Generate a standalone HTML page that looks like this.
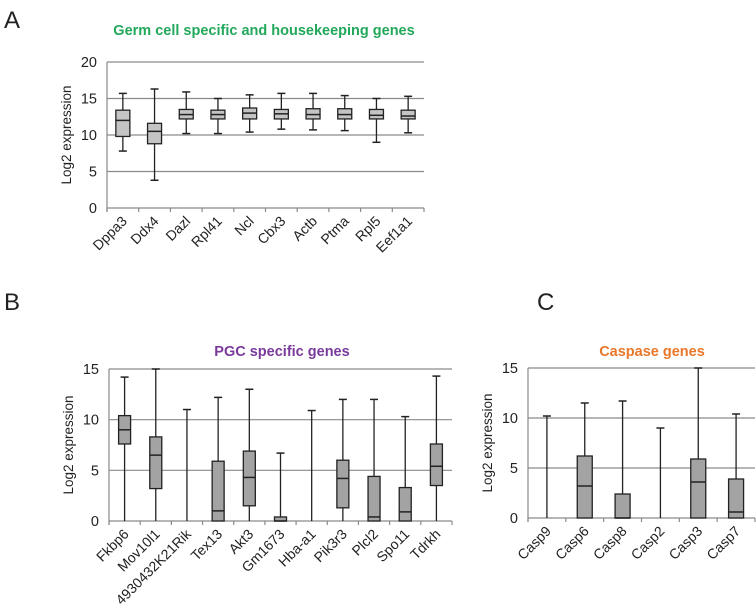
<!DOCTYPE html>
<html><head><meta charset="utf-8"><style>
body{margin:0;background:#fff;width:756px;height:605px;overflow:hidden;font-family:"Liberation Sans",Arial,sans-serif}
svg text{font-family:"Liberation Sans",Arial,sans-serif}
</style></head><body>
<svg id="fig" width="756" height="605" xmlns="http://www.w3.org/2000/svg">
<rect width="756" height="605" fill="#fff"/>
<text x="4" y="28" font-size="24" fill="#222">A</text>
<text x="264" y="35" font-size="14.5" font-weight="bold" fill="#22a85a" text-anchor="middle">Germ cell specific and housekeeping genes</text>
<text x="4" y="310" font-size="24" fill="#222">B</text>
<text x="282" y="356" font-size="14.5" font-weight="bold" fill="#7a3a9c" text-anchor="middle">PGC specific genes</text>
<text x="537" y="310" font-size="24" fill="#222">C</text>
<text x="652" y="356" font-size="14.5" font-weight="bold" fill="#e8772a" text-anchor="middle">Caspase genes</text>
</svg>
<script>
const catsA=["Dppa3","Ddx4","Dazl","Rpl41","Ncl","Cbx3","Actb","Ptma","Rpl5","Eef1a1"];
const minA=[7.8,3.8,10.2,10.2,10.4,10.8,10.7,10.6,9,10.3];
const q1A=[9.8,8.8,12.2,12.2,12.2,12.2,12.2,12.2,12.2,12.2];
const medA=[12,10.5,12.8,12.8,13,12.9,12.8,12.8,12.7,12.6];
const q3A=[13.4,11.6,13.5,13.4,13.7,13.5,13.6,13.6,13.5,13.4];
const maxA=[15.7,16.3,15.9,15,15.5,15.7,15.7,15.4,15,15.3];
const ticksA=[0,5,10,15,20];

const catsB=["Fkbp6","Mov10l1","4930432K21Rik","Tex13","Akt3","Gm1673","Hba-a1","Pik3r3","Plcl2","Spo11","Tdrkh"];
const minB=[0,0,0,0,0,0,0,0,0,0,0];
const q1B=[7.6,3.2,0,0,1.5,0,0,1.3,0,0,3.5];
const medB=[9,6.5,0,1,4.3,0,0,4.2,0.4,0.9,5.4];
const q3B=[10.4,8.3,0,5.9,6.9,0.4,0,6,4.4,3.3,7.6];
const maxB=[14.2,15,11,12.2,13,6.7,10.9,12,12,10.3,14.3];
const ticksB=[0,5,10,15];

const catsC=["Casp9","Casp6","Casp8","Casp2","Casp3","Casp7"];
const minC=[0,0,0,0,0,0];
const q1C=[0,0,0,0,0,0];
const medC=[0,3.2,0,0,3.6,0.6];
const q3C=[0,6.2,2.4,0,5.9,3.9];
const maxC=[10.2,11.5,11.7,9,15,10.4];
const ticksC=[0,5,10,15];

const NS="http://www.w3.org/2000/svg";
const svg=document.getElementById('fig');
function mk(tag,attrs,parent){const e=document.createElementNS(NS,tag);for(const k in attrs)e.setAttribute(k,attrs[k]);(parent||svg).appendChild(e);return e;}

function chart(id,cats,mn,q1,md,q3,mx,ticks,x0,x1,yTop,yBot,boxW,fill){
  const g=mk('g',{});
  
  
  const vmax=ticks[ticks.length-1];
  const y=v=>yBot-(v/vmax)*(yBot-yTop);
  const bw=(x1-x0)/cats.length;
  const x=i=>x0+bw*(i+0.5);
  ticks.forEach(t=>{
    if(t>0){const l=mk('line',{x1:x0,x2:x1,y1:y(t),y2:y(t),stroke:'#8a8a8a','stroke-width':1.2},g);
    
    }
    const tx=mk('text',{x:x0-10,y:y(t)+5,'font-size':14.5,'text-anchor':'end',fill:'#222'},g);
    tx.textContent=t;
    
    
  });
  const ya=mk('line',{x1:x0,x2:x0,y1:yTop,y2:yBot+4,stroke:'#8a8a8a','stroke-width':1.2},g);
  
  
  const xa=mk('line',{x1:x0,x2:x1,y1:yBot,y2:yBot,stroke:'#8a8a8a','stroke-width':1.2},g);
  
  
  for(let i=0;i<=cats.length;i++){mk('line',{x1:x0+bw*i,x2:x0+bw*i,y1:yBot,y2:yBot+4,stroke:'#8a8a8a','stroke-width':1.2},g);}
  const yt=mk('text',{x:0,y:0,'font-size':13.5,'text-anchor':'middle',fill:'#222',transform:`translate(${x0-36},${(yTop+yBot)/2}) rotate(-90)`},g);
  yt.textContent='Log2 expression';
  
  
  cats.forEach((c,i)=>{
    const cx=x(i);
    const bg=mk('g',{},g);
    
    
    mk('line',{x1:cx,x2:cx,y1:y(mx[i]),y2:y(mn[i]),stroke:'#222','stroke-width':1.3},bg);
    mk('line',{x1:cx-4,x2:cx+4,y1:y(mx[i]),y2:y(mx[i]),stroke:'#222','stroke-width':1.5},bg);
    if(mn[i]>0)mk('line',{x1:cx-4,x2:cx+4,y1:y(mn[i]),y2:y(mn[i]),stroke:'#222','stroke-width':1.5},bg);
    if(q3[i]>q1[i]){
      mk('rect',{x:cx-boxW/2,y:y(q3[i]),width:boxW,height:y(q1[i])-y(q3[i]),fill:fill,stroke:'#222','stroke-width':1.3},bg);
      mk('line',{x1:cx-boxW/2,x2:cx+boxW/2,y1:y(md[i]),y2:y(md[i]),stroke:'#222','stroke-width':1.5},bg);
    }
    const lt=mk('text',{x:0,y:0,'font-size':14,'text-anchor':'end',fill:'#222',transform:`translate(${cx+5},${yBot+14}) rotate(-45)`},g);
    lt.textContent=c;
    
    
  });
}
chart('chart-a',catsA,minA,q1A,medA,q3A,maxA,ticksA,107,424,62,208,14,'#c4c4c4');
chart('chart-b',catsB,minB,q1B,medB,q3B,maxB,ticksB,109,452,369,521,12,'#a3a3a3');
chart('chart-c',catsC,minC,q1C,medC,q3C,maxC,ticksC,528,755,368,518,15,'#a3a3a3');
</script>
</body></html>
